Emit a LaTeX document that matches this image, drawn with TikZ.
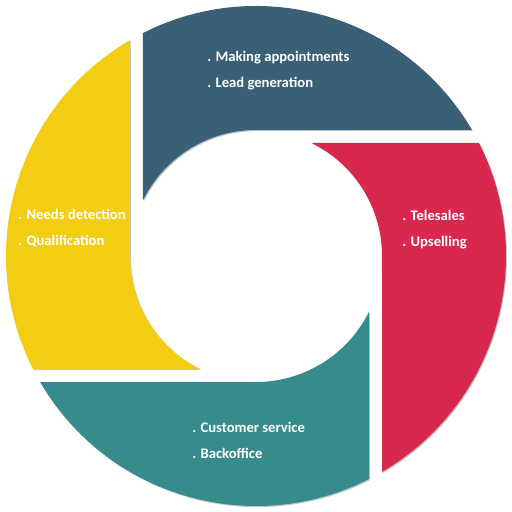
\documentclass[tikz,border=0pt]{standalone}
\usepackage{fontspec}
\setmainfont{Carlito}
\usepackage{tikz}
\usetikzlibrary{shadows}
\definecolor{petrolblue}{RGB}{58, 96, 117}
\definecolor{raspberry}{RGB}{216, 40, 80}
\definecolor{seateal}{RGB}{53, 140, 138}
\definecolor{sunyellow}{RGB}{242, 205, 20}

\begin{document}
\begin{tikzpicture}[
        x=0.025cm, y=0.025cm,
        blade/.style={draw=none, drop shadow={shadow xshift=0.7pt, shadow yshift=-0.8pt, fill=black!45, opacity=0.5}},
        tasks/.style={text=white, font=\fontsize{10.4}{18.6}\selectfont\bfseries, align=left, anchor=west, inner sep=0pt}
    ]
    \useasboundingbox (-256,-256) rectangle (256,256);

    % Four blades, each turned a quarter clockwise
    \foreach \turn/\col in {0/petrolblue, -90/raspberry, -180/seateal, -270/sunyellow}{
        \fill[blade, fill=\col, rotate=\turn] (-113,223) -- (-113,55.7)
            arc[start angle=153.76, end angle=90, radius=126] -- (215.9,126)
            arc[start angle=30.27, end angle=116.87, radius=250] -- cycle;
    }

    % Task lists
    \node[tasks] (prospecting) at (-49,185) {. Making appointments\\ . Lead generation};
    \node[tasks] (selling) at (146,26) {. Telesales\\ . Upselling};
    \node[tasks] (aftersales) at (-64,-184.5) {. Customer service\\ . Backoffice};
    \node[tasks] (qualifying) at (-238,28) {. Needs detection\\ . Qualification};

\end{tikzpicture}
\end{document}
